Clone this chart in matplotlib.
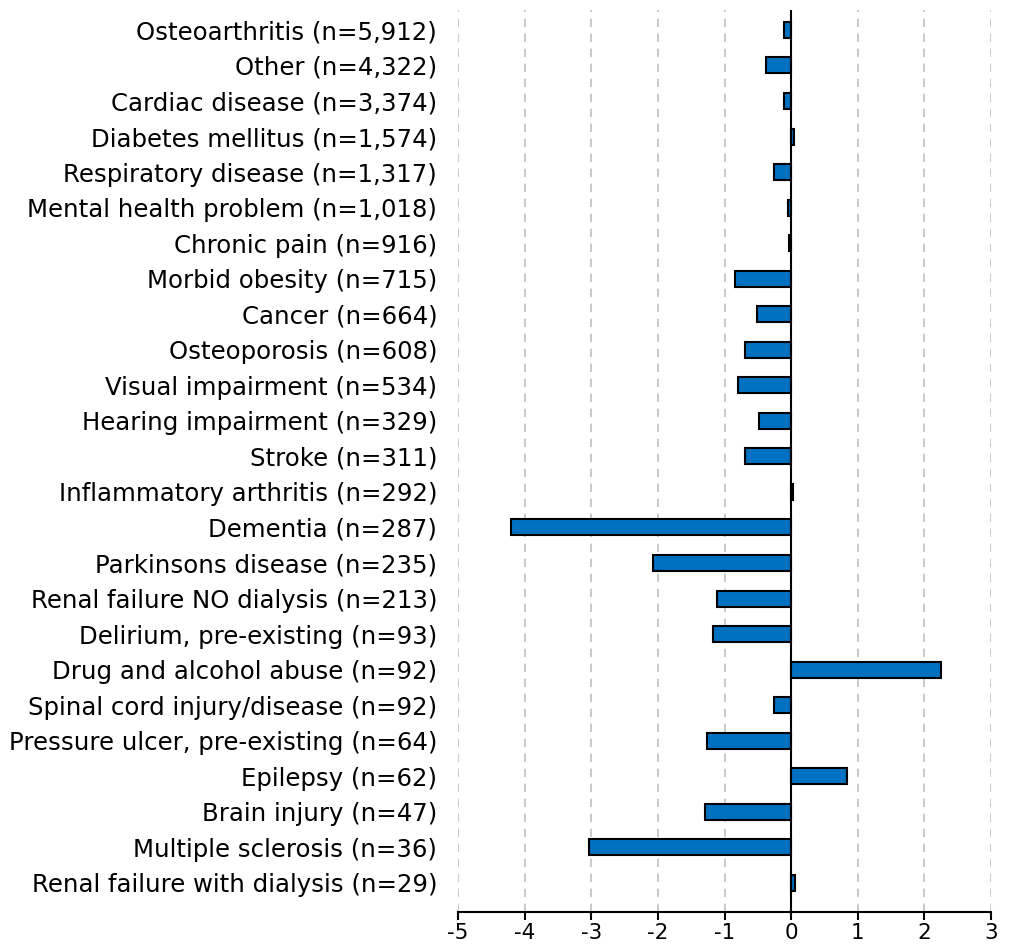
import matplotlib.pyplot as plt
import numpy as np

#----------------  Data  --------------------

labels = ['Osteoarthritis (n=5,912)',
          'Other (n=4,322)',
          'Cardiac disease (n=3,374)',
          'Diabetes mellitus (n=1,574)',
          'Respiratory disease (n=1,317)',
          'Mental health problem (n=1,018)',
          'Chronic pain (n=916)',
          'Morbid obesity (n=715)',
          'Cancer (n=664)',
          'Osteoporosis (n=608)',
          'Visual impairment (n=534)',
          'Hearing impairment (n=329)',
          'Stroke (n=311)',
          'Inflammatory arthritis (n=292)',
          'Dementia (n=287)',
          'Parkinsons disease (n=235)',
          'Renal failure NO dialysis (n=213)',
          'Delirium, pre-existing (n=93)',
          'Drug and alcohol abuse (n=92)',
          'Spinal cord injury/disease (n=92)',
          'Pressure ulcer, pre-existing (n=64)',
          'Epilepsy (n=62)',
          'Brain injury (n=47)',
          'Multiple sclerosis (n=36)',
          'Renal failure with dialysis (n=29)']

values = [-0.11, -0.37, -0.11, 0.04, -0.26, -0.05, -0.03,
          -0.84, -0.51, -0.69, -0.80, -0.48, -0.69, 0.03,
          -4.21, -2.08, -1.12, -1.18, 2.25, -0.26, -1.27,
          0.84, -1.30, -3.03, 0.06]

xticks = [-5, -4, -3, -2, -1, 0, 1, 2, 3]

#----------------  Plot  --------------------

fig = plt.figure(figsize=(10.09, 9.44), dpi=100)
ax = fig.add_axes([458/1009, 32/944, (991-458)/1009, (934-32)/944])

y = np.arange(len(labels))
ax.barh(y, values, height=0.45, color='#0070C0', edgecolor='black',
        linewidth=1.5, zorder=3)

ax.set_xlim(-5, 3)
ax.set_ylim(24.82, -0.56)
ax.set_xticks(xticks)
ax.set_xticklabels([str(t) for t in xticks], fontsize=15.5)
ax.set_yticks(y)
ax.set_yticklabels(labels, fontsize=17.6)
ax.tick_params(axis='y', length=0, pad=15)
ax.tick_params(axis='x', length=6, width=1.5, direction='out', pad=2)

ax.xaxis.grid(True, linestyle=(0, (5, 4)), color='#c0c0c0', linewidth=1.2, zorder=0)
ax.axvline(0, color='black', linewidth=1.5, zorder=4)

for s in ['top', 'right', 'left']:
    ax.spines[s].set_visible(False)
ax.spines['bottom'].set_linewidth(1.5)

fig.savefig('out.png', dpi=100)
